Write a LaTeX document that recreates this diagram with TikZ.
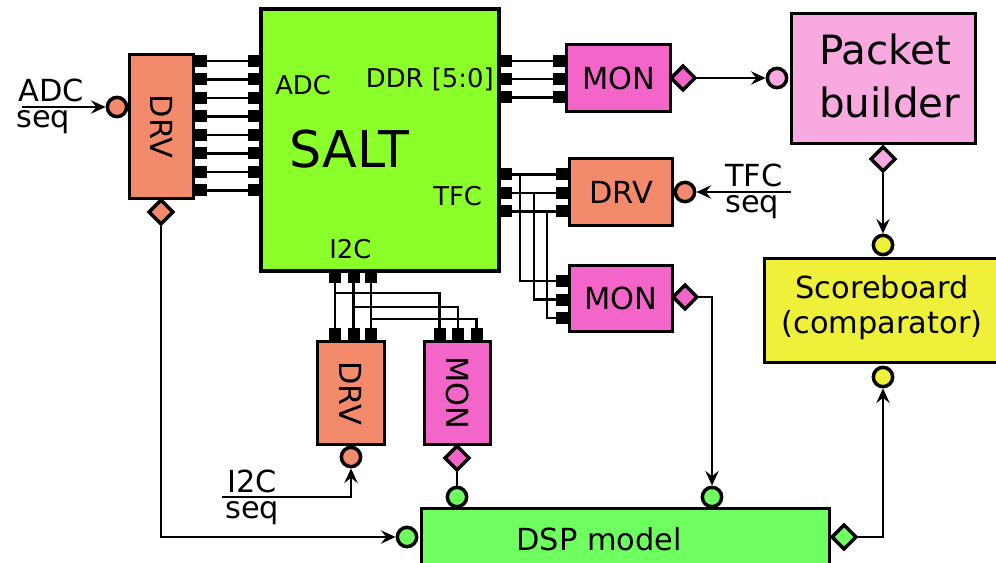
\documentclass[tikz,border=0pt]{standalone}
\usepackage{fontspec}
\setmainfont{DejaVu Sans}
\usetikzlibrary{arrows.meta,shapes.geometric,calc}
\definecolor{saltc}{RGB}{138,255,42}
\definecolor{drvc}{RGB}{244,138,108}
\definecolor{monc}{RGB}{243,101,201}
\definecolor{pktc}{RGB}{248,170,224}
\definecolor{scc}{RGB}{239,240,58}
\definecolor{dspc}{RGB}{110,254,95}
\begin{document}
\begin{tikzpicture}[x=0.75pt,y=-0.75pt,
  box/.style={draw=black, line width=2.5pt, inner sep=0pt, font=\fontsize{22.8}{27}\selectfont},
  pinb/.style={fill=black, inner sep=0pt, minimum width=9pt, minimum height=9pt, outer sep=0pt},
  wire/.style={line width=1.6pt},
  conn/.style={line width=1.8pt, -{Stealth[length=11pt,width=10pt,inset=4pt]}},
  plainconn/.style={line width=1.8pt},
  port/.style={circle, draw=black, line width=2.6pt, inner sep=0pt, minimum size=14.5pt},
  dport/.style={diamond, draw=black, line width=2.6pt, inner sep=0pt, minimum width=19pt, minimum height=19pt},
  lbl/.style={inner sep=0pt, font=\fontsize{22.8}{27}\selectfont},
  small/.style={inner sep=0pt, font=\fontsize{19.4}{23}\selectfont}]
\useasboundingbox (0,0) rectangle (996,563);
\clip (0,0) rectangle (996,563);

% boxes
\node[box, fill=saltc, minimum width=178.5pt, minimum height=196.5pt] (salt) at (380,140) {};
\node[box, fill=drvc, minimum width=48pt, minimum height=108pt] (drvA) at (161.5,126.5) {};
\node[box, fill=monc, minimum width=78pt, minimum height=50.25pt] (monD) at (618.5,78) {MON};
\node[box, fill=drvc, minimum width=77.25pt, minimum height=50.25pt] (drvT) at (621,192) {DRV};
\node[box, fill=monc, minimum width=77.25pt, minimum height=49.5pt] (monT) at (621,298.5) {MON};
\node[box, fill=drvc, minimum width=50.25pt, minimum height=77.25pt] (drvI) at (351,393) {};
\node[box, fill=monc, minimum width=49.5pt, minimum height=77.25pt] (monI) at (457.5,393) {};
\node[box, fill=pktc, minimum width=138pt, minimum height=97.5pt] (pkt) at (883.5,78.5) {};
\node[box, fill=scc, minimum width=176.6pt, minimum height=78pt] (score) at (882.25,310.5) {};
\node[box, fill=dspc, minimum width=306pt, minimum height=43.1pt] (dsp) at (625.5,537.25) {};

% box labels
\node[lbl, rotate=-90] (drvAt) at (drvA) {DRV};
\node[lbl, rotate=-90] (drvIt) at (drvI) {DRV};
\node[lbl, rotate=-90] (monIt) at (monI) {MON};
\node[inner sep=0pt, font=\fontsize{30.3}{36}\selectfont, anchor=base west] (pktt1) at (819,65) {Packet};
\node[inner sep=0pt, font=\fontsize{30.3}{36}\selectfont, anchor=base west] (pktt2) at (819,118) {builder};
\node[lbl, anchor=base] (sct1) at (882,298) {Scoreboard};
\node[lbl, anchor=base] (sct2) at (882,333) {(comparator)};
\node[lbl, anchor=base] (dspt) at (599,550) {DSP model};

% SALT labels
\node[inner sep=0pt, font=\fontsize{38}{45}\selectfont, anchor=base west] (saltt) at (289,168) {SALT};
\node[small, anchor=base west] (sadc) at (275,95) {ADC};
\node[small, anchor=base east] (sddr) at (494,88) {DDR [5:0]};
\node[small, anchor=base west] (stfc) at (433,205) {TFC};
\node[small, anchor=base west] (si2c) at (329,258) {I2C};

% ADC pins and wires
\foreach \i in {0,...,7}{
  \pgfmathsetmacro\yy{61+18.5*\i}
  \node[pinb] (pa\i) at (201,\yy) {};
  \node[pinb] (pb\i) at (254,\yy) {};
  \draw[wire] (pa\i) -- (pb\i);
}

% DDR pins and wires
\foreach \i/\yy in {0/61,1/79,2/97.5}{
  \node[pinb] (sd\i) at (506,\yy) {};
  \node[pinb] (md\i) at (559,\yy) {};
  \draw[wire] (sd\i) -- (md\i);
}

% TFC pins and wires
\foreach \i/\yy/\zz/\dx in {0/174.5/281/8,1/193/299.5/22,2/211.5/318/35}{
  \node[pinb] (st\i) at (506,\yy) {};
  \node[pinb] (dt\i) at (561.5,\yy) {};
  \node[pinb] (mt\i) at (561.5,\zz) {};
  \draw[wire] (st\i) -- (dt\i);
  \draw[wire] (st\i.east) ++(\dx,0) |- (mt\i);
}

% I2C pins and wires
\foreach \i/\xx/\mx/\dy in {0/335/439.5/10,1/353.5/458/24,2/371/476.5/36}{
  \node[pinb] (si\i) at (\xx,277) {};
  \node[pinb] (di\i) at (\xx,334) {};
  \node[pinb] (mi\i) at (\mx,334) {};
  \draw[wire] (si\i) -- (di\i);
  \draw[wire] (si\i.south) ++(0,\dy) -| (mi\i);
}

% ports
\node[port, fill=drvc] (cADC) at (117,107) {};
\node[dport, fill=drvc] (dADC) at (161,212) {};
\node[dport, fill=monc] (dMONd) at (683,78) {};
\node[port, fill=pktc] (cPkt) at (777,78) {};
\node[dport, fill=pktc] (dPkt) at (883,159) {};
\node[port, fill=scc] (cSc1) at (883,245) {};
\node[port, fill=scc] (cSc2) at (883,377) {};
\node[port, fill=drvc] (cTFC) at (685,192) {};
\node[dport, fill=monc] (dMONt) at (685,297) {};
\node[port, fill=drvc] (cI2C) at (351,457) {};
\node[dport, fill=monc] (dMONi) at (457,458) {};
\node[port, fill=dspc] (cDsp1) at (457,497) {};
\node[port, fill=dspc] (cDsp2) at (712,497) {};
\node[port, fill=dspc] (cDsp3) at (407,537) {};
\node[dport, fill=dspc] (dDsp) at (844,537) {};

% sequencer inputs
\coordinate (adcS) at (22,107);
\coordinate (tfcS) at (791,192);
\coordinate (i2cS) at (222,497);
\node[lbl, anchor=base west] (adcL1) at (18,102) {ADC};
\node[lbl, anchor=base west] (adcL2) at (16,128) {seq};
\node[lbl, anchor=base west] (tfcL1) at (725,187) {TFC};
\node[lbl, anchor=base west] (tfcL2) at (725,213) {seq};
\node[lbl, anchor=base west] (i2cL1) at (227,492) {I2C};
\node[lbl, anchor=base west] (i2cL2) at (225,518) {seq};

% connectors
\draw[conn] (adcS) -- (cADC);
\draw[conn] (tfcS) -- (cTFC);
\draw[conn] (i2cS) -| (cI2C);
\draw[conn] (dADC) |- (cDsp3);
\draw[conn] (dMONd) -- (cPkt);
\draw[conn] (dPkt) -- (cSc1);
\draw[conn] (dMONt) -| (cDsp2);
\draw[plainconn] (dMONi) -- (cDsp1);
\draw[conn] (dDsp) -| (cSc2);
\end{tikzpicture}
\end{document}
